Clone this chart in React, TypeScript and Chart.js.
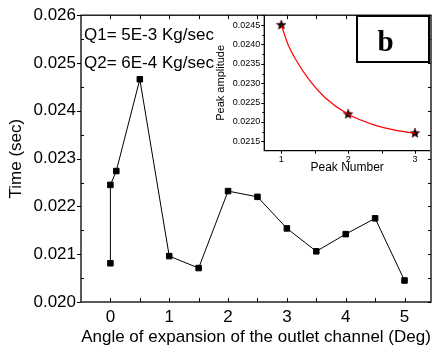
import React, { useEffect, useRef } from 'react';
import { Chart, registerables } from 'chart.js';

Chart.register(...registerables);

const FONT = "Arial, 'Liberation Sans', sans-serif";
const SERIF = "'Times New Roman', 'Liberation Serif', serif";

// Main series
const angleDeg = [0, 0, 0.1, 0.5, 1, 1.5, 2, 2.5, 3, 3.5, 4, 4.5, 5];
const timeSec = [0.02081, 0.02245, 0.02274, 0.02466, 0.02096, 0.02071, 0.02232, 0.0222, 0.02154, 0.02106, 0.02142, 0.02175, 0.02045];
const xTickValues = [0, 1, 2, 3, 4, 5];
const xMinorValues = [0, 0.5, 1, 1.5, 2, 2.5, 3, 3.5, 4, 4.5, 5];
const yTickValues = [0.02, 0.021, 0.022, 0.023, 0.024, 0.025, 0.026];
const yMinorValues = [0.0205, 0.0215, 0.0225, 0.0235, 0.0245, 0.0255];
const xTitle = 'Angle of expansion of the outlet channel (Deg)';
const yTitle = 'Time (sec)';
const noteLines = ['Q1= 5E-3 Kg/sec', 'Q2= 6E-4 Kg/sec'];

// Inset series
const peakNumber = [1, 2, 3];
const peakAmplitude = [0.0245, 0.0222, 0.02171];
const fitPeakNumber = [1, 1.1, 1.22, 1.42, 1.66, 2, 2.4, 2.7, 3];
const fitAmplitude = [0.0245, 0.024, 0.0236, 0.02308, 0.02262, 0.0222, 0.02192, 0.02179, 0.02171];
const insetXTickValues = [1, 2, 3];
const insetXMinorValues = [1, 1.5, 2, 2.5, 3];
const insetYTickValues = [0.0215, 0.022, 0.0225, 0.023, 0.0235, 0.024, 0.0245];
const insetYMinorValues = [0.02175, 0.02225, 0.02275, 0.02325, 0.02375, 0.02425, 0.02475];
const insetXTitle = 'Peak Number';
const insetYTitle = 'Peak amplitude';
const panelLabel = 'b';

function makeStar(size: number) {
  const c = document.createElement('canvas');
  c.width = size;
  c.height = size;
  const g = c.getContext('2d')!;
  const cx = size / 2, cy = size / 2, R = size / 2, r = R * 0.45;
  g.beginPath();
  for (let i = 0; i < 10; i++) {
    const ang = -Math.PI / 2 + (i * Math.PI) / 5;
    const rad = i % 2 ? r : R;
    g.lineTo(cx + rad * Math.cos(ang), cy + rad * Math.sin(ang));
  }
  g.closePath();
  g.fillStyle = '#000';
  g.fill();
  g.strokeStyle = '#600';
  g.lineWidth = 0.6;
  g.stroke();
  return c;
}

const mainPlugin = {
  id: 'mainFrame',
  afterDraw(chart: any) {
    const { ctx, chartArea: a, scales } = chart;
    const x = scales.x, y = scales.y;
    ctx.save();
    ctx.strokeStyle = '#000';
    ctx.lineWidth = 1.3;
    ctx.strokeRect(a.left, a.top, a.right - a.left, a.bottom - a.top);
    ctx.lineWidth = 1;
    ctx.beginPath();
    xMinorValues.forEach((v) => {
      const p = Math.round(x.getPixelForValue(v)) + 0.5;
      ctx.moveTo(p, a.bottom);
      ctx.lineTo(p, a.bottom - 4);
      ctx.moveTo(p, a.top);
      ctx.lineTo(p, a.top + 4);
    });
    yTickValues.forEach((v) => {
      const p = Math.round(y.getPixelForValue(v)) + 0.5;
      ctx.moveTo(a.left - 4, p);
      ctx.lineTo(a.left, p);
      ctx.moveTo(a.right, p);
      ctx.lineTo(a.right - 3, p);
    });
    yMinorValues.forEach((v) => {
      const p = Math.round(y.getPixelForValue(v)) + 0.5;
      ctx.moveTo(a.left, p);
      ctx.lineTo(a.left + 3, p);
      ctx.moveTo(a.right, p);
      ctx.lineTo(a.right - 3, p);
    });
    ctx.stroke();
    ctx.fillStyle = '#000';
    ctx.font = `17px ${FONT}`;
    ctx.textAlign = 'left';
    ctx.textBaseline = 'alphabetic';
    ctx.fillText(noteLines[0], a.left + 3, a.top + 24.5);
    ctx.fillText(noteLines[1], a.left + 3, a.top + 53);
    ctx.restore();
  },
};

const insetPlugin = {
  id: 'insetFrame',
  afterDraw(chart: any) {
    const { ctx, chartArea: a, scales } = chart;
    const x = scales.x, y = scales.y;
    ctx.save();
    ctx.strokeStyle = '#000';
    ctx.lineWidth = 1.3;
    ctx.beginPath();
    ctx.moveTo(a.left, a.top);
    ctx.lineTo(a.left, a.bottom);
    ctx.lineTo(a.right, a.bottom);
    ctx.stroke();
    ctx.lineWidth = 1;
    ctx.beginPath();
    insetXMinorValues.forEach((v) => {
      const p = Math.round(x.getPixelForValue(v)) + 0.5;
      ctx.moveTo(p, a.bottom);
      ctx.lineTo(p, a.bottom + 3);
    });
    insetYTickValues.forEach((v) => {
      const p = Math.round(y.getPixelForValue(v)) + 0.5;
      ctx.moveTo(a.left, p);
      ctx.lineTo(a.left - 3, p);
    });
    insetYMinorValues.forEach((v) => {
      const p = Math.round(y.getPixelForValue(v)) + 0.5;
      ctx.moveTo(a.left, p);
      ctx.lineTo(a.left - 2, p);
    });
    ctx.stroke();
    // panel label box
    const bx = a.right - 74, by = a.top, bw = 74, bh = 48;
    ctx.fillStyle = '#fff';
    ctx.fillRect(bx, by, bw, bh);
    ctx.lineWidth = 2;
    ctx.strokeRect(bx + 1, by + 1, bw - 2, bh - 2);
    ctx.fillStyle = '#000';
    ctx.font = `bold 29px ${SERIF}`;
    ctx.textAlign = 'center';
    ctx.textBaseline = 'alphabetic';
    ctx.fillText(panelLabel, bx + 29.5, by + 35.5);
    ctx.restore();
  },
};

export default function App() {
  const mainRef = useRef<HTMLCanvasElement>(null);
  const insetRef = useRef<HTMLCanvasElement>(null);

  useEffect(() => {
    document.body.style.margin = '0';
    const tickFont = { size: 17, family: FONT };
    const main = new Chart(mainRef.current!, {
      type: 'line',
      data: {
        datasets: [
          {
            data: angleDeg.map((v, i) => ({ x: v, y: timeSec[i] })),
            borderColor: '#000',
            borderWidth: 1,
            backgroundColor: '#000',
            pointStyle: 'rect',
            pointRadius: 3.9,
            pointBorderWidth: 1,
            pointBorderColor: '#000',
            pointBackgroundColor: '#000',
            tension: 0,
            fill: false,
          },
        ],
      },
      options: {
        animation: false,
        responsive: false,
        maintainAspectRatio: false,
        layout: { padding: { left: 0, right: 3, top: 15, bottom: 0 } },
        plugins: { legend: { display: false }, tooltip: { enabled: false } },
        scales: {
          x: {
            type: 'linear',
            min: -0.5,
            max: 5.45,
            grid: { display: false, drawTicks: false },
            border: { display: false },
            afterBuildTicks: (s: any) => {
              s.ticks = xTickValues.map((v) => ({ value: v }));
            },
            afterFit: (s: any) => {
              s.height = 52;
            },
            ticks: {
              font: tickFont,
              color: '#000',
              padding: 5,
              maxRotation: 0,
              autoSkip: false,
              callback: (v: any) => String(v),
            },
            title: {
              display: true,
              text: xTitle,
              font: tickFont,
              color: '#000',
              padding: { top: 0, bottom: 6 },
            },
          },
          y: {
            type: 'linear',
            min: 0.02,
            max: 0.026,
            grid: { display: false, drawTicks: false },
            border: { display: false },
            afterBuildTicks: (s: any) => {
              s.ticks = yTickValues.map((v) => ({ value: v }));
            },
            afterFit: (s: any) => {
              s.width = 81;
            },
            ticks: {
              font: tickFont,
              color: '#000',
              padding: 5,
              autoSkip: false,
              callback: (v: any) => Number(v).toFixed(3),
            },
            title: {
              display: true,
              text: yTitle,
              font: tickFont,
              color: '#000',
              padding: { top: 6, bottom: 0 },
            },
          },
        },
      },
      plugins: [mainPlugin],
    } as any);

    const star = makeStar(10);
    const smallFont = { size: 9, family: FONT };
    const inset = new Chart(insetRef.current!, {
      type: 'line',
      data: {
        datasets: [
          {
            data: fitPeakNumber.map((v, i) => ({ x: v, y: fitAmplitude[i] })),
            borderColor: '#ff0000',
            borderWidth: 1.2,
            pointRadius: 0,
            cubicInterpolationMode: 'monotone',
            fill: false,
          },
          {
            data: peakNumber.map((v, i) => ({ x: v, y: peakAmplitude[i] })),
            showLine: false,
            pointStyle: star,
            pointRadius: 5,
          },
        ],
      },
      options: {
        animation: false,
        responsive: false,
        maintainAspectRatio: false,
        layout: { padding: { left: 0, right: 3, top: 15, bottom: 0 } },
        plugins: { legend: { display: false }, tooltip: { enabled: false } },
        scales: {
          x: {
            type: 'linear',
            min: 0.745,
            max: 3.225,
            grid: { display: false, drawTicks: false },
            border: { display: false },
            afterBuildTicks: (s: any) => {
              s.ticks = insetXTickValues.map((v) => ({ value: v }));
            },
            afterFit: (s: any) => {
              s.height = 24.3;
            },
            ticks: {
              font: smallFont,
              color: '#000',
              padding: 3,
              maxRotation: 0,
              autoSkip: false,
              callback: (v: any) => String(v),
            },
            title: {
              display: true,
              text: insetXTitle,
              font: { size: 12, family: FONT },
              color: '#000',
              padding: { top: 0, bottom: 0 },
            },
          },
          y: {
            type: 'linear',
            min: 0.02126,
            max: 0.02476,
            grid: { display: false, drawTicks: false },
            border: { display: false },
            afterBuildTicks: (s: any) => {
              s.ticks = insetYTickValues.map((v) => ({ value: v }));
            },
            afterFit: (s: any) => {
              s.width = 51.3;
            },
            ticks: {
              font: smallFont,
              color: '#000',
              padding: 4,
              autoSkip: false,
              callback: (v: any) => Number(v).toFixed(4),
            },
            title: {
              display: true,
              text: insetYTitle,
              font: { size: 11, family: FONT },
              color: '#000',
              padding: { top: 1, bottom: 0 },
            },
          },
        },
      },
      plugins: [insetPlugin],
    } as any);

    return () => {
      main.destroy();
      inset.destroy();
    };
  }, []);

  return (
    <div style={{ position: 'relative', width: 436, height: 354, background: '#fff' }}>
      <canvas ref={mainRef} width={436} height={354} style={{ position: 'absolute', left: 0, top: 0 }} />
      <canvas ref={insetRef} width={223} height={175} style={{ position: 'absolute', left: 213, top: 0 }} />
    </div>
  );
}
